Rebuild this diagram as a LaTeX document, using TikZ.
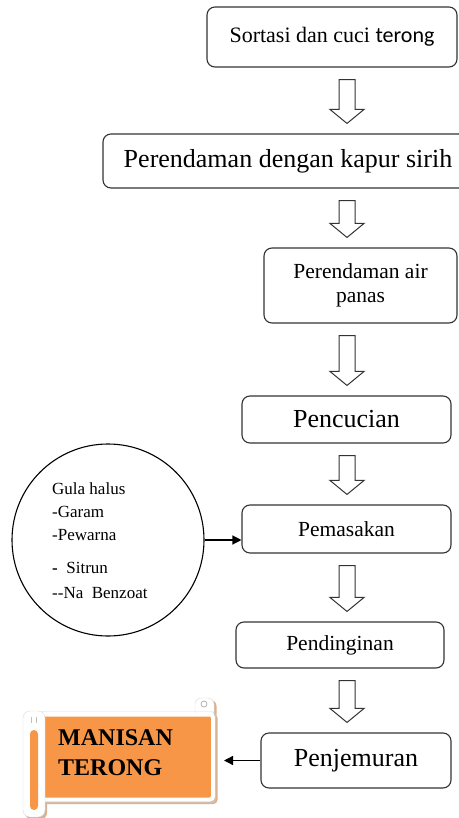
\documentclass[tikz,border=0pt]{standalone}
\usepackage{fontspec}
\setmainfont{Liberation Serif}
\newfontfamily\carlito{Carlito}
\usepackage{xcolor}
\usepackage{tikz}
\usetikzlibrary{positioning,calc,arrows.meta,backgrounds}

\definecolor{jingga}{HTML}{F79646}
\definecolor{bayang}{HTML}{D8B292}

\newcommand{\besar}{\fontsize{26}{30}\selectfont}
\newcommand{\sedang}{\fontsize{21.5}{24}\selectfont}
\newcommand{\kecil}{\fontsize{17}{23}\selectfont}

% panah blok kosong di antara dua langkah
\newcommand{\panahblok}[2]{%
	\draw[panah] let \p1=(#1.south), \p2=(#2.north) in
	(339pt,\y1-12pt) -- (355pt,\y1-12pt) -- (355pt,\y2+24pt) -- (364pt,\y2+24pt)
	-- (347pt,\y2+10pt) -- (330pt,\y2+24pt) -- (339pt,\y2+24pt) -- cycle;}

\begin{document}
\begin{tikzpicture}[
				x=1pt, y=-1pt,
				langkah/.style={
					rectangle, draw=black!80, line width=1.1pt,
					rounded corners=8pt, align=center, inner sep=0pt
				},
				panah/.style={draw=black!80, line width=1pt, fill=white},
				penghubung/.style={draw=black, line width=1.3pt, -{Triangle[length=9pt,width=9pt]}}
				]
				\useasboundingbox (0,0) rectangle (458,818);
				
				% Langkah-langkah proses
				\node[langkah, minimum width=250pt, minimum height=60pt, font=\fontsize{22}{24}\selectfont] (sortasi) at (332,37) {Sortasi dan cuci {\carlito terong}};
				\node[langkah, minimum width=370pt, minimum height=54pt, font=\besar] (kapur) at (288,161) {Perendaman dengan kapur sirih};
				\node[langkah, minimum width=193pt, minimum height=75pt, font=\sedang] (airpanas) at (360.5,285.5) {Perendaman air\\ panas};
				\node[langkah, minimum width=209pt, minimum height=47pt, font=\besar] (cuci) at (346.5,419.5) {Pencucian};
				\node[langkah, minimum width=209pt, minimum height=48pt, font=\sedang] (masak) at (346.5,529) {Pemasakan};
				\node[langkah, minimum width=208pt, minimum height=46pt, font=\sedang] (dingin) at (340,645) {Pendinginan};
				\node[langkah, minimum width=190pt, minimum height=55pt, font=\besar] (jemur) at (356,760.5) {Penjemuran};
				
				\panahblok{sortasi}{kapur}
				\panahblok{kapur}{airpanas}
				\panahblok{airpanas}{cuci}
				\panahblok{cuci}{masak}
				\panahblok{masak}{dingin}
				\panahblok{dingin}{jemur}
				
				% Bahan tambahan
				\node[circle, draw=black, line width=1.1pt, minimum size=192pt, inner sep=0pt] (bahan) at (108,540) {};
				\node[anchor=west, align=left, font=\kecil, inner sep=0pt] (bahanisi) at (52,541)
				{Gula halus\\ -Garam\\ -Pewarna\\[10pt] {\bfseries -} \ Sitrun\\[2pt] -{}-Na\ \ Benzoat};
				\draw[penghubung] (bahan.east) -- (bahan.east -| masak.west);
				
				% Hasil akhir (gulungan)
				\node[rectangle, fill=jingga, draw=white, line width=4pt, rounded corners=3pt,
					minimum width=172pt, minimum height=85pt] (manisan) at (127,757) {};
				\node[anchor=west, align=left, inner sep=0pt, font=\fontsize{24}{30}\selectfont\bfseries] (judul) at (58,753) {MANISAN\\ TERONG};
				\begin{scope}[on background layer]
					\fill[bayang, rounded corners=4pt] (41,714) rectangle (217.5,804);
					\fill[bayang, rounded corners=6pt] (25,713) rectangle (47,819);
					\fill[bayang, rounded corners=6pt] (197,700) rectangle (216.5,720);
					\filldraw[fill=white, draw=black!15, rounded corners=6pt] (195,698) rectangle (214,718);
				\end{scope}
				\draw[black!15, rounded corners=4pt] (38.5,711.5) rectangle (215.5,802.5);
				\filldraw[fill=white, draw=black!15, rounded corners=7pt] (23,711) rectangle (45,817);
				\fill[jingga, rounded corners=4pt] (30,730) rectangle (38,810);
				\draw[black!30, line width=0.8pt] (204,704) circle (3);
				\draw[black!25, line width=0.8pt] (31,717) -- (31,723) (36,717) -- (36,723);
				\draw[penghubung] (jemur.west) -- (jemur.west -| manisan.east) [shorten >=9pt];
				
			\end{tikzpicture}
\end{document}
